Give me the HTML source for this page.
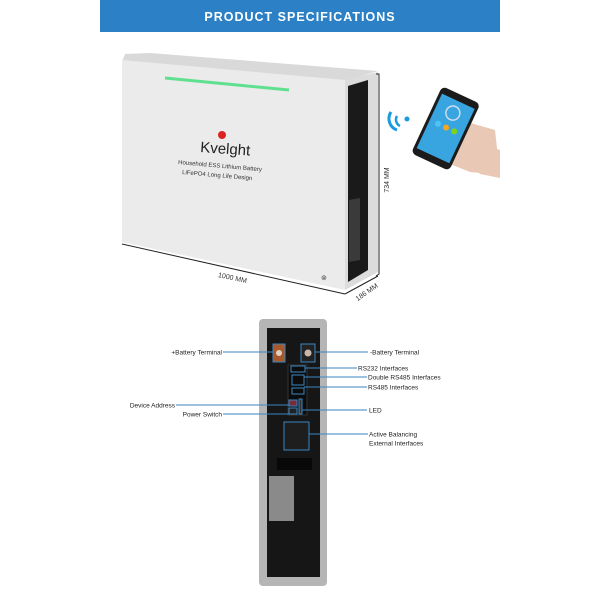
<!DOCTYPE html>
<html><head><meta charset="utf-8"><style>
body{margin:0;background:#fff;width:600px;height:600px;overflow:hidden}
text{font-family:"Liberation Sans",sans-serif}
</style></head><body>
<svg width="600" height="600" viewBox="0 0 600 600" xmlns="http://www.w3.org/2000/svg">
<rect x="100" y="0" width="400" height="32" fill="#2c80c5"/>
<text x="300" y="21" text-anchor="middle" fill="#fff" font-size="12.5" font-weight="bold" letter-spacing="1">PRODUCT SPECIFICATIONS</text>

<!-- battery -->
<polygon points="125,54 150,53 378,71 345,81 122,62" fill="#d9d9d9"/>
<polygon points="122,60 345,80 345,290 122,242" fill="#ebebeb"/>
<polygon points="345,80 378,72 378,272 345,290" fill="#dcdcdc"/>
<polygon points="348,86 368,80 368,270 348,282" fill="#1a1a1a"/>
<polygon points="349,200 360,198 360,260 349,262" fill="#3a3a3a"/>
<line x1="165" y1="78" x2="289" y2="90" stroke="#5fe08f" stroke-width="3"/>
<circle cx="222" cy="135" r="4" fill="#d22"/>
<text x="200" y="152" font-family="Liberation Serif,serif" font-size="15" fill="#222" transform="rotate(4 200 152)">Kvelght</text>
<text x="178" y="164" font-size="6" fill="#333" transform="rotate(5 178 164)">Household ESS Lithium Battery</text>
<text x="182" y="174" font-size="6" fill="#333" transform="rotate(5 182 174)">LiFePO4 Long Life Design</text>
<text x="321" y="280" font-size="7" fill="#333">⊚</text>
<!-- dimensions -->
<polyline points="376,74 379,74 379,274 376,276" fill="none" stroke="#222" stroke-width="1"/>
<text x="389" y="180" font-size="7" fill="#333" text-anchor="middle" transform="rotate(-90 389 180)">734 MM</text>
<line x1="122" y1="244" x2="345" y2="294" stroke="#222" stroke-width="1"/>
<line x1="345" y1="294" x2="378" y2="276" stroke="#222" stroke-width="1"/>
<text x="232" y="280" font-size="7" fill="#333" text-anchor="middle" transform="rotate(12 232 280)">1000 MM</text>
<text x="368" y="294" font-size="7" fill="#333" text-anchor="middle" transform="rotate(-35 368 294)">186 MM</text>

<!-- phone -->
<path d="M391,112 a12,12 0 0 0 6,18" fill="none" stroke="#1a9be0" stroke-width="3"/>
<path d="M397,116 a7,7 0 0 0 3,10" fill="none" stroke="#1a9be0" stroke-width="2.5"/>
<circle cx="407" cy="119" r="2.5" fill="#1a9be0"/>
<path d="M460,120 L495,130 L500,175 L470,172 L440,160 L425,150 Z" fill="#e9c9b6"/>
<g transform="rotate(25 447 128)">
<rect x="425" y="92" width="42" height="74" rx="5" fill="#1b1b1b"/>
<rect x="428" y="99" width="36" height="60" fill="#38a5e0"/>
<circle cx="446" cy="112" r="7" fill="none" stroke="#cde" stroke-width="1.5"/>
<circle cx="437" cy="128" r="3" fill="#4fc3f7"/><circle cx="446" cy="128" r="3" fill="#f5a623"/><circle cx="455" cy="128" r="3" fill="#7ed321"/>
</g>
<path d="M470,140 L500,150 L500,178 L480,174 L465,160 Z" fill="#e9c9b6"/>

<!-- rear panel -->
<rect x="259" y="319" width="68" height="267" rx="4" fill="#b5b5b5"/>
<rect x="267" y="328" width="53" height="249" fill="#161616"/>
<rect x="273" y="344" width="12" height="18" fill="#a8582a" stroke="#3a86c0"/>
<circle cx="279" cy="353" r="3" fill="#e0d0c0"/>
<rect x="301" y="344" width="14" height="18" fill="#222" stroke="#3a86c0"/>
<circle cx="308" cy="353" r="3.5" fill="#c9b6a8"/>
<rect x="288" y="365" width="19" height="50" fill="#0c0c0c" stroke="#333"/>
<rect x="291" y="366" width="14" height="6" fill="none" stroke="#3a86c0"/>
<rect x="292" y="375" width="12" height="10" fill="none" stroke="#3a86c0"/>
<rect x="292" y="388" width="12" height="6" fill="none" stroke="#3a86c0"/>
<rect x="289" y="400" width="8" height="6" fill="#7a2a3a" stroke="#3a86c0"/>
<rect x="289" y="408" width="8" height="6" fill="#222" stroke="#3a86c0"/>
<rect x="299" y="399" width="3" height="15" fill="#333" stroke="#3a86c0"/>
<rect x="284" y="422" width="25" height="28" fill="#1e1e1e" stroke="#3a86c0"/>
<rect x="277" y="458" width="35" height="12" fill="#080808"/>
<rect x="269" y="476" width="25" height="45" fill="#8a8a8a"/>

<g stroke="#3a86c0" stroke-width="1">
<line x1="223" y1="352" x2="273" y2="352"/>
<line x1="315" y1="352" x2="368" y2="352"/>
<line x1="305" y1="368" x2="357" y2="368"/>
<line x1="304" y1="377" x2="367" y2="377"/>
<line x1="304" y1="387" x2="367" y2="387"/>
<line x1="176" y1="405" x2="289" y2="405"/>
<line x1="223" y1="414" x2="289" y2="414"/>
<line x1="302" y1="410" x2="367" y2="410"/>
<line x1="309" y1="434" x2="368" y2="434"/>
</g>
<g font-size="6.5" fill="#222">
<text x="222" y="354.5" text-anchor="end">+Battery Terminal</text>
<text x="370" y="354.5">-Battery Terminal</text>
<text x="358" y="370.5">RS232 Interfaces</text>
<text x="368" y="379.5">Double RS485 Interfaces</text>
<text x="368" y="389.5">RS485 Interfaces</text>
<text x="175" y="407.5" text-anchor="end">Device Address</text>
<text x="222" y="416.5" text-anchor="end">Power Switch</text>
<text x="369" y="412.5">LED</text>
<text x="369" y="436.5">Active Balancing</text>
<text x="369" y="445.5">External Interfaces</text>
</g>
</svg>
</body></html>
